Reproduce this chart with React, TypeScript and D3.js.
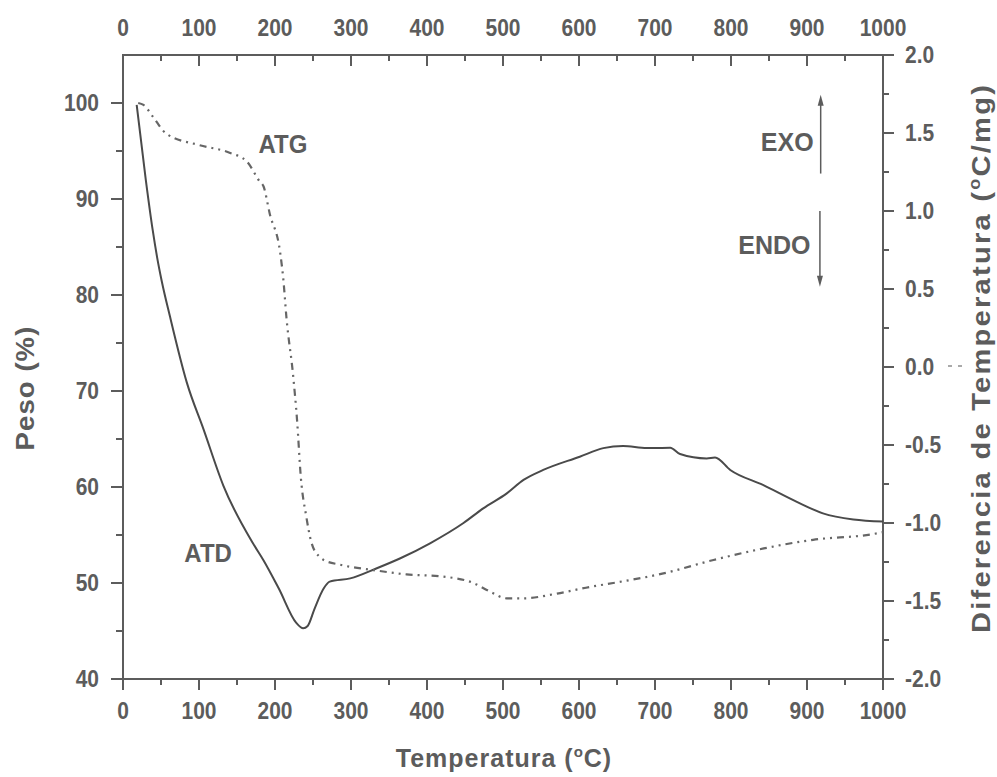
import { useMemo } from 'react';
import * as d3 from 'd3';

// ATD (solid, right axis)
const atdTemp = [18, 30, 39, 45, 51, 62, 84, 106, 132, 171, 185, 205, 228, 237, 243, 252, 264, 272, 299, 334, 365, 404, 448, 474, 505, 527, 553, 601, 632, 658, 689, 720, 733, 768, 779, 799, 842, 886, 921, 961, 1000];
const atdValue = [1.68, 1.2, 0.88, 0.7, 0.55, 0.32, -0.1, -0.4, -0.76, -1.13, -1.24, -1.42, -1.64, -1.675, -1.66, -1.55, -1.42, -1.376, -1.355, -1.29, -1.226, -1.13, -1.0, -0.906, -0.81, -0.724, -0.66, -0.575, -0.52, -0.506, -0.52, -0.517, -0.558, -0.586, -0.58, -0.66, -0.756, -0.863, -0.938, -0.977, -0.99];

// ATG (dash-dot, left axis)
const atgTemp = [20, 27, 40, 57, 101, 141, 163, 180, 185, 193, 207, 211, 215, 224, 229, 234, 241, 248, 259, 264, 286, 329, 373, 417, 461, 483, 505, 527, 571, 615, 645, 711, 777, 843, 908, 987, 1000];
const atgValue = [100, 99.8, 98.5, 96.8, 95.6, 94.8, 93.9, 91.8, 91.3, 88.5, 84.3, 81.6, 77.7, 71.5, 67, 61, 57, 54.2, 52.7, 52.4, 51.9, 51.35, 50.9, 50.7, 50.0, 49.1, 48.4, 48.4, 48.9, 49.6, 50.0, 51.0, 52.4, 53.6, 54.5, 55.1, 55.3];

const tempTicks = [0, 100, 200, 300, 400, 500, 600, 700, 800, 900, 1000];
const pesoTicks = [40, 50, 60, 70, 80, 90, 100];
const difTicks = [-2.0, -1.5, -1.0, -0.5, 0.0, 0.5, 1.0, 1.5, 2.0];

const W = 997;
const H = 777;
const margin = { left: 123, right: 114, top: 55, bottom: 98 };
const ink = '#5c5c5c';
const font = '"Liberation Sans", Arial, sans-serif';

// text drawn at (x, y) with a stretch, the scanned picture is a bit taller than wide
function Label({ x, y, sx = 1, sy = 1, rotate = 0, size, anchor = 'middle', spacing = 0, children }: any) {
	return (
		<text
			transform={`translate(${x},${y}) rotate(${rotate}) scale(${sx},${sy})`}
			textAnchor={anchor}
			fontFamily={font}
			fontSize={size}
			fontWeight={600}
			letterSpacing={spacing}
			fill={ink}>
			{children}
		</text>
	);
}

export default function App() {
	const x = useMemo(
		() => d3.scaleLinear().domain([0, 1000]).range([margin.left, W - margin.right]),
		[]
	);
	const yL = useMemo(
		() => d3.scaleLinear().domain([40, 105]).range([H - margin.bottom, margin.top]),
		[]
	);
	const yR = useMemo(
		() => d3.scaleLinear().domain([-2, 2]).range([H - margin.bottom, margin.top]),
		[]
	);

	const atdLine = d3
		.line<number>()
		.x((d, i) => x(atdTemp[i]))
		.y((d) => yR(d))
		.curve(d3.curveMonotoneX);
	const atgLine = d3
		.line<number>()
		.x((d, i) => x(atgTemp[i]))
		.y((d) => yL(d))
		.curve(d3.curveMonotoneX);

	const x0 = x(0), x1 = x(1000);
	const yb = yL(40), yt = yR(2);

	const minorT = d3.range(50, 1000, 100);
	const minorP = d3.range(45, 105, 10);
	const minorD = d3.range(-1.75, 2, 0.5);

	const tk = { size: 21, sy: 1.12 };

	return (
		<svg
			width={W}
			height={H}
			style={{ position: 'absolute', left: 0, top: 0, background: '#fff' }}>
			{/* frame */}
			<rect x={x0} y={yt} width={x1 - x0} height={yb - yt} fill='none' stroke={ink} strokeWidth={2} />

			{/* bottom axis: ticks outward */}
			{tempTicks.map((t) => (
				<g key={'b' + t}>
					<line x1={x(t)} x2={x(t)} y1={yb} y2={yb + 11} stroke={ink} strokeWidth={2} />
					<Label x={x(t)} y={yb + 40} {...tk}>{t}</Label>
				</g>
			))}
			{minorT.map((t) => (
				<line key={'bm' + t} x1={x(t)} x2={x(t)} y1={yb} y2={yb + 6} stroke={ink} strokeWidth={2} />
			))}

			{/* top axis: ticks inward */}
			{tempTicks.map((t) => (
				<g key={'t' + t}>
					<line x1={x(t)} x2={x(t)} y1={yt} y2={yt + 11} stroke={ink} strokeWidth={2} />
					<Label x={x(t)} y={yt - 19} {...tk}>{t}</Label>
				</g>
			))}
			{minorT.map((t) => (
				<line key={'tm' + t} x1={x(t)} x2={x(t)} y1={yt} y2={yt + 6} stroke={ink} strokeWidth={2} />
			))}

			{/* left axis */}
			{pesoTicks.map((p) => (
				<g key={'l' + p}>
					<line x1={x0 - 12} x2={x0} y1={yL(p)} y2={yL(p)} stroke={ink} strokeWidth={2} />
					<Label x={x0 - 24} y={yL(p) + 8} anchor='end' {...tk}>{p}</Label>
				</g>
			))}
			{minorP.map((p) => (
				<line key={'lm' + p} x1={x0 - 7} x2={x0} y1={yL(p)} y2={yL(p)} stroke={ink} strokeWidth={2} />
			))}

			{/* right axis */}
			{difTicks.map((v) => (
				<g key={'r' + v}>
					<line x1={x1} x2={x1 + 11} y1={yR(v)} y2={yR(v)} stroke={ink} strokeWidth={2} />
					<Label x={x1 + 22} y={yR(v) + 8} anchor='start' {...tk}>
						{d3.format('.1f')(v).replace('−', '-')}
					</Label>
				</g>
			))}
			{minorD.map((v) => (
				<line key={'rm' + v} x1={x1} x2={x1 + 6} y1={yR(v)} y2={yR(v)} stroke={ink} strokeWidth={2} />
			))}

			{/* curves */}
			<path d={atdLine(atdValue) ?? ''} fill='none' stroke='#4a4a4a' strokeWidth={2} />
			<path
				d={atgLine(atgValue) ?? ''}
				fill='none'
				stroke='#666'
				strokeWidth={2.2}
				strokeDasharray='7 5 2 5 2 5'
			/>

			{/* stray mark next to 0.0 */}
			<line x1={948} x2={963} y1={yR(0) - 1} y2={yR(0) - 1} stroke='#aaa' strokeWidth={2} strokeDasharray='4 6' />

			{/* annotations */}
			<Label x={x(210.5)} y={yL(95.8) + 9.5} size={24} sy={1.1}>ATG</Label>
			<Label x={x(112)} y={yR(-1.19) + 9.5} size={24} sy={1.1}>ATD</Label>
			<Label x={x(874)} y={yR(1.44) + 9} size={25}>EXO</Label>
			<Label x={x(857)} y={yR(0.78) + 9} size={25}>ENDO</Label>

			{/* EXO arrow up */}
			<line x1={x(918)} x2={x(918)} y1={yR(1.24)} y2={yR(1.7)} stroke={ink} strokeWidth={1.5} />
			<path d={`M${x(918) - 3},${yR(1.7) + 4} L${x(918)},${yR(1.72) - 4} L${x(918) + 3},${yR(1.7) + 4}Z`} fill={ink} />
			{/* ENDO arrow down */}
			<line x1={x(917)} x2={x(917)} y1={yR(1.0)} y2={yR(0.56)} stroke={ink} strokeWidth={1.5} />
			<path d={`M${x(917) - 3},${yR(0.56) - 4} L${x(917)},${yR(0.54) + 4} L${x(917) + 3},${yR(0.56) - 4}Z`} fill={ink} />

			{/* axis titles */}
			<Label x={504} y={767} size={25} spacing={1}>
				Temperatura (<tspan dy={-10} fontSize={15}>o</tspan><tspan dy={10}>C)</tspan>
			</Label>
			<Label x={34} y={388} rotate={-90} size={26} sx={1.06} spacing={1}>
				Peso (%)
			</Label>
			<Label x={990} y={358} rotate={-90} size={26} sx={1.12} spacing={2}>
				Diferencia de Temperatura (<tspan dy={-10} fontSize={16}>o</tspan><tspan dy={10}>C/mg)</tspan>
			</Label>
		</svg>
	);
}
